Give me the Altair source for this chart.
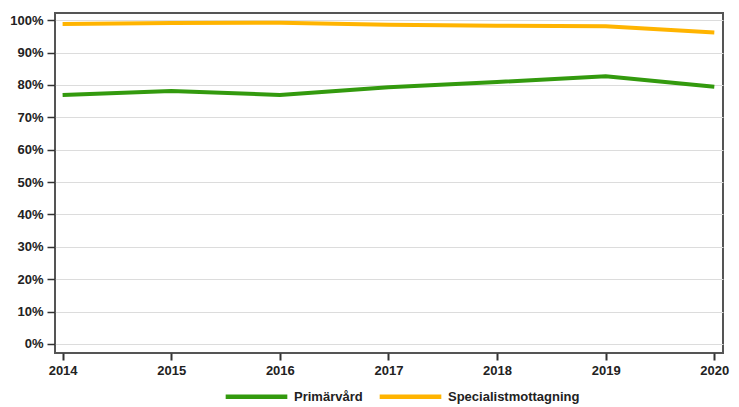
import altair as alt
import pandas as pd

years = [2014, 2015, 2016, 2017, 2018, 2019, 2020]
primarvard = [76.9, 78.1, 76.9, 79.3, 80.9, 82.7, 79.4]
specialist = [98.8, 99.1, 99.2, 98.6, 98.3, 98.1, 96.2]
series_names = ["Primärvård", "Specialistmottagning"]
colors = ["#339a0e", "#ffb400"]

rows = []
for y, v in zip(years, primarvard):
    rows.append({"year": y, "value": v, "serie": series_names[0]})
for y, v in zip(years, specialist):
    rows.append({"year": y, "value": v, "serie": series_names[1]})
df = pd.DataFrame(rows)

font = "Liberation Sans"

chart = alt.Chart(df).mark_line(strokeWidth=4, clip=True).encode(
    x=alt.X("year:Q", scale=alt.Scale(domain=[2013.93, 2020.08], nice=False, zero=False),
            axis=alt.Axis(values=years, format="d", title=None, grid=False,
                          tickSize=7, tickWidth=2, tickColor="#333", labelPadding=4,
                          domain=False, labelFontWeight="bold", labelFontSize=13,
                          labelFont=font, labelColor="#222")),
    y=alt.Y("value:Q", scale=alt.Scale(domain=[-2.8, 102.2], nice=False, zero=False),
            axis=alt.Axis(values=list(range(0, 101, 10)), labelExpr="datum.value + '%'",
                          title=None, grid=True, gridColor="#dcdcdc", gridWidth=1,
                          tickSize=8, tickWidth=1.5, tickColor="#333", labelPadding=4,
                          domain=False, labelFontWeight="bold", labelFontSize=13,
                          labelFont=font, labelColor="#222")),
    color=alt.Color("serie:N", scale=alt.Scale(domain=series_names, range=colors),
                    legend=alt.Legend(title=None, orient="none", direction="horizontal",
                                      legendX=168, legendY=350,
                                      symbolType="stroke", symbolSize=3800,
                                      symbolStrokeWidth=4.5, labelFont=font,
                                      labelFontSize=13, labelFontWeight="bold",
                                      labelColor="#222", labelOffset=4,
                                      columnPadding=7)),
).properties(
    width=668, height=340,
    padding={"left": 47, "top": 5, "right": 8, "bottom": 56},
    autosize=alt.AutoSizeParams(type="none"),
).configure_view(stroke="#555", strokeWidth=2)

chart.save("out.html", embed_options={"renderer": "svg", "actions": False})
